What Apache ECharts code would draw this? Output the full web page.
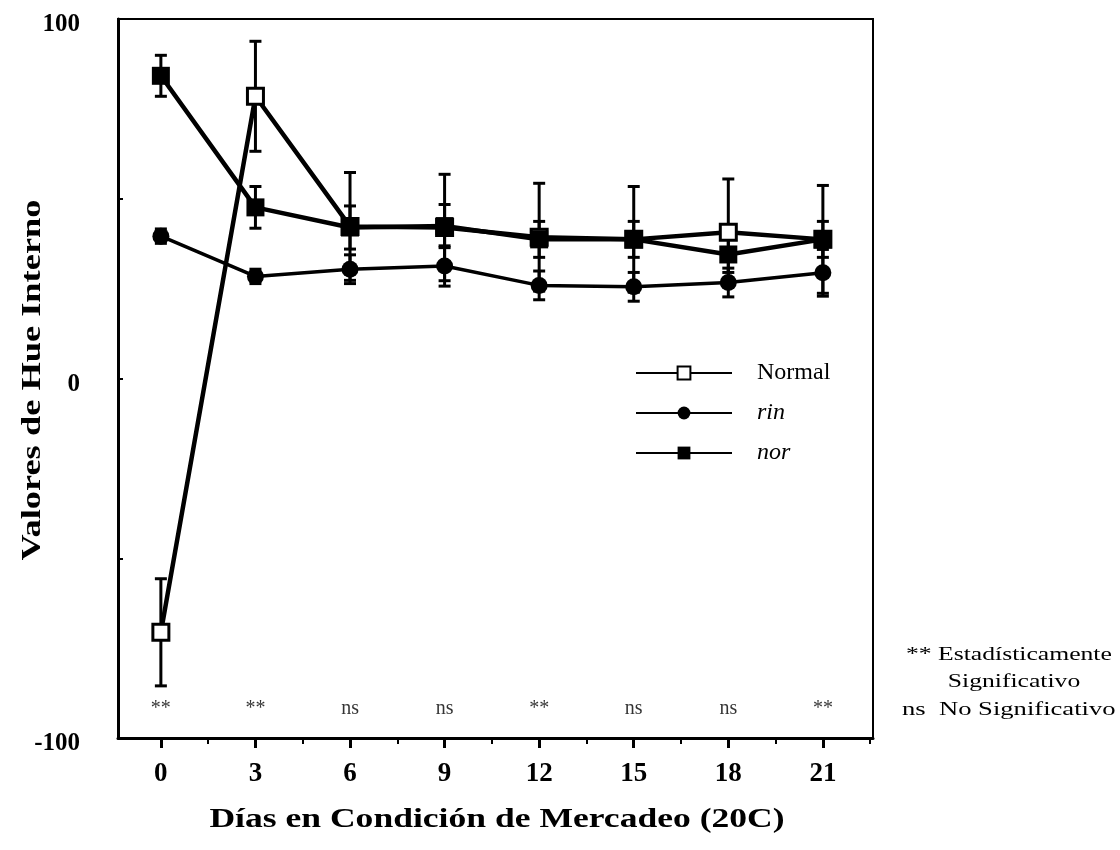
<!DOCTYPE html>
<html>
<head>
<meta charset="utf-8">
<script src="https://cdn.jsdelivr.net/npm/echarts@6/dist/echarts.min.js"></script>
<style>html,body{margin:0;padding:0;background:#fff}#c{width:1120px;height:850px}</style>
</head>
<body>
<div id="c"></div>
<script>
const days = [0, 3, 6, 9, 12, 15, 18, 21];
const normalMean = [-70.6, 78.5, 42.3, 42.0, 39.3, 38.7, 40.7, 38.7];
const normalErr  = [14.9, 15.3, 15.0, 14.8, 15.0, 14.7, 14.8, 15.0];
const rinMean = [39.6, 28.4, 30.4, 31.3, 25.9, 25.5, 26.7, 29.4];
const rinErr  = [2, 2, 4, 5.6, 4, 4, 4, 6.5];
const norMean = [84.2, 47.6, 42.0, 42.4, 38.7, 38.7, 34.5, 38.7];
const norErr  = [5.7, 5.8, 6, 6, 5, 5, 5, 5];
const signif = ['**', '**', 'ns', 'ns', '**', 'ns', 'ns', '**'];
const signifY = -92;
const xTicks = [0, 3, 6, 9, 12, 15, 18, 21];
const xMinorTicks = [1.5, 4.5, 7.5, 10.5, 13.5, 16.5, 19.5, 22.5];
const yLabels = [-100, 0, 100];
const yTicks = [-100, -50, 0, 50, 100];
const xTitle = 'Días en Condición de Mercadeo (20C)';
const yTitle = 'Valores de Hue Interno';
const noteLines = ['** Estadísticamente', 'Significativo', 'ns  No Significativo'];

const serif = '"Liberation Serif","DejaVu Serif",serif';

function pairs(m) { return days.map((d, i) => [d, m[i]]); }
function errData(m, e) { return days.map((d, i) => [d, m[i] - e[i], m[i] + e[i]]); }

function errSeries(name, m, e, z) {
  return {
    type: 'custom', name: name + '_err', z: z, silent: true,
    data: errData(m, e),
    renderItem: function (params, api) {
      const x = api.value(0);
      const lo = api.coord([x, api.value(1)]);
      const hi = api.coord([x, api.value(2)]);
      const w = 6;
      const st = { stroke: '#000', lineWidth: 3 };
      return {
        type: 'group',
        children: [
          { type: 'line', shape: { x1: lo[0], y1: lo[1], x2: hi[0], y2: hi[1] }, style: st },
          { type: 'line', shape: { x1: lo[0] - w, y1: lo[1], x2: lo[0] + w, y2: lo[1] }, style: st },
          { type: 'line', shape: { x1: hi[0] - w, y1: hi[1], x2: hi[0] + w, y2: hi[1] }, style: st }
        ]
      };
    }
  };
}

const chart = echarts.init(document.getElementById('c'), null, { renderer: 'canvas' });
chart.setOption({
  animation: false,
  backgroundColor: '#fff',
  grid: { left: 118, right: 247, top: 19, bottom: 112, show: true, borderColor: '#000', borderWidth: 2, backgroundColor: 'transparent' },
  xAxis: [{
    type: 'value', min: -1.36, max: 22.59,
    axisLine: { show: true, onZero: false, lineStyle: { color: '#000', width: 3 } },
    splitLine: { show: false },
    axisTick: { show: true, customValues: xTicks, length: 10, inside: false, lineStyle: { color: '#000', width: 3 } },
    axisLabel: { customValues: xTicks, color: '#000', fontFamily: serif, fontWeight: 'bold', fontSize: 27, margin: 23 }
  }, {
    type: 'value', min: -1.36, max: 22.59, position: 'bottom',
    axisLine: { show: false, onZero: false }, splitLine: { show: false },
    axisTick: { show: true, customValues: xMinorTicks, length: 6, lineStyle: { color: '#000', width: 2 } },
    axisLabel: { show: false }
  }],
  yAxis: {
    type: 'value', min: -100, max: 100,
    axisLine: { show: true, onZero: false, lineStyle: { color: '#000', width: 3 } },
    splitLine: { show: false },
    axisTick: { show: true, customValues: yTicks, inside: true, length: 5, lineStyle: { color: '#000', width: 2 } },
    axisLabel: { customValues: yLabels, color: '#000', fontFamily: serif, fontWeight: 'bold', fontSize: 25, margin: 38, verticalAlign: 'top', lineHeight: 12 }
  },
  legend: {
    orient: 'vertical', left: 630, top: 356, itemWidth: 96, itemHeight: 16, itemGap: 16,
    textStyle: { color: '#000', fontFamily: serif, fontSize: 24, padding: [0, 0, 0, 20] },
    data: [
      { name: 'Normal' },
      { name: 'rin', textStyle: { fontStyle: 'italic' } },
      { name: 'nor', textStyle: { fontStyle: 'italic' } }
    ]
  },
  series: [
    errSeries('Normal', normalMean, normalErr, 2),
    errSeries('rin', rinMean, rinErr, 2),
    errSeries('nor', norMean, norErr, 2),
    {
      name: 'rin', type: 'line', z: 3, data: pairs(rinMean),
      symbol: 'circle', symbolSize: 17,
      lineStyle: { color: '#000', width: 3.5 },
      itemStyle: { color: '#000', borderColor: '#000', borderWidth: 0 }
    },
    {
      name: 'Normal', type: 'line', z: 4, data: pairs(normalMean),
      symbol: 'rect', symbolSize: 16,
      lineStyle: { color: '#000', width: 4.5 },
      itemStyle: { color: '#fff', borderColor: '#000', borderWidth: 3 }
    },
    {
      name: 'nor', type: 'line', z: 5, data: pairs(norMean),
      symbol: 'rect', symbolSize: 18,
      lineStyle: { color: '#000', width: 4.5 },
      itemStyle: { color: '#000', borderColor: '#000', borderWidth: 0 }
    },
    {
      name: 'signif', type: 'scatter', symbolSize: 0, silent: true,
      data: days.map((d, i) => ({ value: [d, signifY], label: { formatter: signif[i] } })),
      label: { show: true, position: 'inside', color: '#000', fontFamily: serif, fontSize: 20 }
    }
  ],
  graphic: [
    { type: 'text', x: 497, y: 820, scaleX: 1.27, style: { text: xTitle, fill: '#000', font: 'bold 28px ' + serif, align: 'center', verticalAlign: 'middle' } },
    { type: 'text', x: 33, y: 380, rotation: Math.PI / 2, scaleX: 1.3, style: { text: yTitle, fill: '#000', font: 'bold 28px ' + serif, align: 'center', verticalAlign: 'middle' } },
    { type: 'text', x: 906, y: 655, scaleX: 1.35, style: { text: noteLines[0], fill: '#000', font: '19px ' + serif, align: 'left', verticalAlign: 'middle' } },
    { type: 'text', x: 1014, y: 682, scaleX: 1.35, style: { text: noteLines[1], fill: '#000', font: '19px ' + serif, align: 'center', verticalAlign: 'middle' } },
    { type: 'text', x: 902, y: 710, scaleX: 1.4, style: { text: noteLines[2], fill: '#000', font: '19px ' + serif, align: 'left', verticalAlign: 'middle' } }
  ]
});
</script>
</body>
</html>
